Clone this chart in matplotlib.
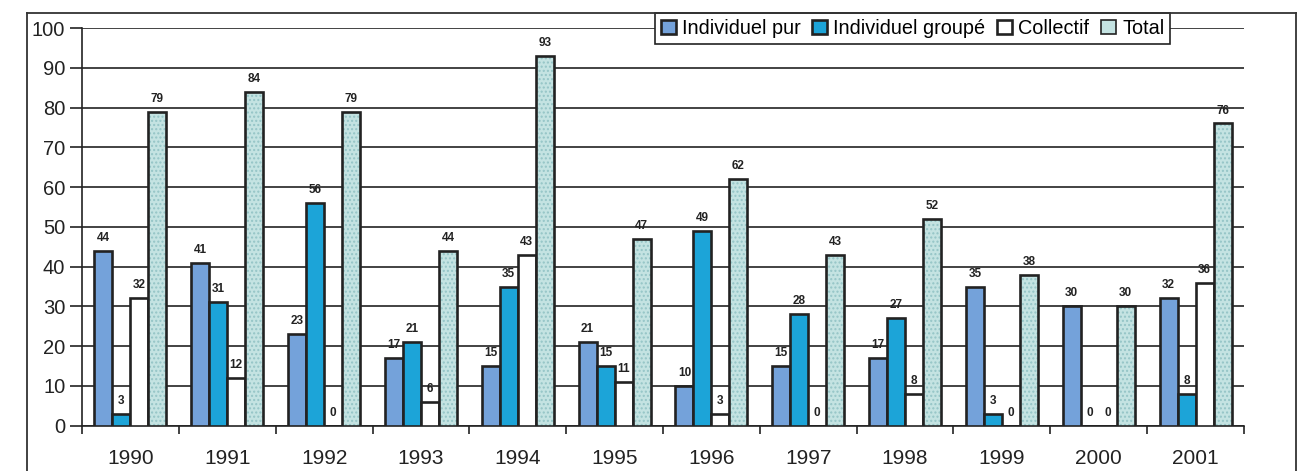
import matplotlib
matplotlib.use("Agg")
import matplotlib.pyplot as plt
from matplotlib.lines import Line2D
import numpy as np

plt.rcParams['font.family'] = ['Liberation Sans', 'DejaVu Sans']

years = ["1990", "1991", "1992", "1993", "1994", "1995",
         "1996", "1997", "1998", "1999", "2000", "2001"]
individuel_pur = [44, 41, 23, 17, 15, 21, 10, 15, 17, 35, 30, 32]
individuel_groupe = [3, 31, 56, 21, 35, 15, 49, 28, 27, 3, 0, 8]
collectif = [32, 12, 0, 6, 43, 11, 3, 0, 8, 0, 0, 36]
total = [79, 84, 79, 44, 93, 47, 62, 43, 52, 38, 30, 76]

series = [
    ("Individuel pur", individuel_pur, "#74a2da"),
    ("Individuel groupé", individuel_groupe, "#1ca4d8"),
    ("Collectif", collectif, "#ffffff"),
    ("Total", total, "#c4e3e2"),
]

W, H = 1306, 471
fig = plt.figure(figsize=(W / 100, H / 100), dpi=100)
ax = fig.add_axes([82 / W, 1 - 425.7 / H, (1244 - 82) / W, (425.7 - 28) / H])

# outer frame of the chart (bottom edge runs off the page)
fl, fr, ft = 27 / W, 1296 / W, 1 - 13 / H
for xs, ys in [([fl, fl], [-0.1, ft]), ([fl, fr], [ft, ft]), ([fr, fr], [ft, -0.1])]:
    fig.add_artist(Line2D(xs, ys, color="#333333", lw=1.3, transform=fig.transFigure))

x = np.arange(len(years))
bw = 0.186
offsets = (np.arange(4) - 1.5) * bw

handles = []
for (name, vals, col), off in zip(series, offsets):
    if name == "Total":
        # stippled fill drawn first, outline on top
        ax.bar(x + off, vals, bw, color=col, edgecolor="#94c4c6", hatch="....",
               linewidth=0, zorder=3)
        ax.bar(x + off, vals, bw, facecolor="none", edgecolor="#222222",
               linewidth=1.9, zorder=4)
        h = ax.bar([0], [0], 0, color=col, edgecolor="#222222", linewidth=1.2)
    else:
        h = ax.bar(x + off, vals, bw, color=col, edgecolor="#222222",
                   linewidth=1.9, zorder=3)
    handles.append(h)
    for xi, v in zip(x + off, vals):
        ax.annotate(str(v), (xi, v), xytext=(0, 5), textcoords="offset points",
                    ha="center", va="bottom", fontsize=8.5, fontweight="bold",
                    color="#222222", zorder=5)

ax.set_xlim(-0.5, len(years) - 0.5)
ax.set_ylim(0, 100)
ax.set_yticks(np.arange(0, 101, 10))
ax.yaxis.grid(True, color="#222222", lw=1.2, zorder=1)
ax.set_axisbelow(True)
ax.tick_params(axis="y", length=9, width=1.2, color="#222222", labelsize=14.5,
               pad=3, labelcolor="#222222")

ax.set_xticks(x)
ax.set_xticklabels(years)
ax.set_xticks(np.arange(-0.5, len(years), 1.0), minor=True)
ax.tick_params(axis="x", which="major", length=0, labelsize=15, pad=17,
               labelcolor="#222222")
ax.tick_params(axis="x", which="minor", length=6, width=1.2, color="#222222")

for s in ["top", "right"]:
    ax.spines[s].set_visible(False)
for s in ["left", "bottom"]:
    ax.spines[s].set_color("#222222")
    ax.spines[s].set_linewidth(1.2)

leg = ax.legend(handles, [s[0] for s in series], loc="upper left",
                bbox_to_anchor=((655 - 82) / 1162, (425.7 - 13) / 397.7),
                ncol=4, fontsize=14.3, frameon=True, fancybox=False,
                edgecolor="#222222", framealpha=1, handlelength=0.75,
                handleheight=0.75, handletextpad=0.3, columnspacing=0.6,
                borderpad=0.3, borderaxespad=0)
leg.get_frame().set_linewidth(1.2)
leg.set_zorder(10)

fig.savefig("out.png", dpi=100, facecolor="white")
